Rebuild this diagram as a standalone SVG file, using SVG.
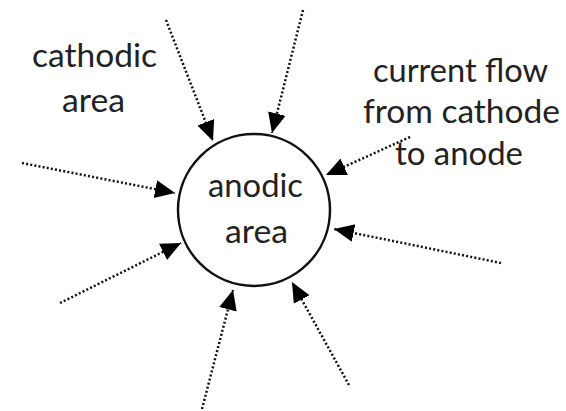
<svg xmlns="http://www.w3.org/2000/svg" width="566" height="411" viewBox="0 0 566 411">
<style>
text{font-family:Lato,"Open Sans","Liberation Sans",sans-serif;font-size:33px;fill:#222;text-anchor:middle}
.c{fill:none;stroke:#111;stroke-width:2.5;stroke-dasharray:2 2.2;marker-end:url(#ah)}
.node{fill:#fff;stroke:#111;stroke-width:2.5}
</style>
<defs>
<marker id="ah" markerUnits="userSpaceOnUse" markerWidth="24" markerHeight="24" refX="20" refY="9" orient="auto" viewBox="0 0 24 18">
<path d="M0,0 L20,9 L0,18 Z" fill="#000" stroke="none"/>
</marker>
</defs>
<g id="anodic">
<circle class="node" cx="254" cy="210" r="76"/>
<text x="255.5" y="197" textLength="95" lengthAdjust="spacingAndGlyphs">anodic</text>
<text x="256.5" y="243" textLength="63" lengthAdjust="spacingAndGlyphs">area</text>
</g>
<g id="cathodic-label">
<text x="94.5" y="67" textLength="125" lengthAdjust="spacingAndGlyphs">cathodic</text>
<text x="93.5" y="112" textLength="63" lengthAdjust="spacingAndGlyphs">area</text>
</g>
<g id="current-label">
<text x="460.5" y="82" textLength="175" lengthAdjust="spacingAndGlyphs">current flow</text>
<text x="461.5" y="123" textLength="197" lengthAdjust="spacingAndGlyphs">from cathode</text>
<text x="459" y="165" textLength="128" lengthAdjust="spacingAndGlyphs">to anode</text>
</g>
<g id="connectors">
<path class="c" d="M166,20 L213,141"/>
<path class="c" d="M303,10 L272,133"/>
<path class="c" d="M22,163 L175,193"/>
<path class="c" d="M60,303 L181,243"/>
<path class="c" d="M410,137 L326,175"/>
<path class="c" d="M501,263 L334,229"/>
<path class="c" d="M202,409 L233,290"/>
<path class="c" d="M349,385 L292,282"/>
</g>
</svg>
